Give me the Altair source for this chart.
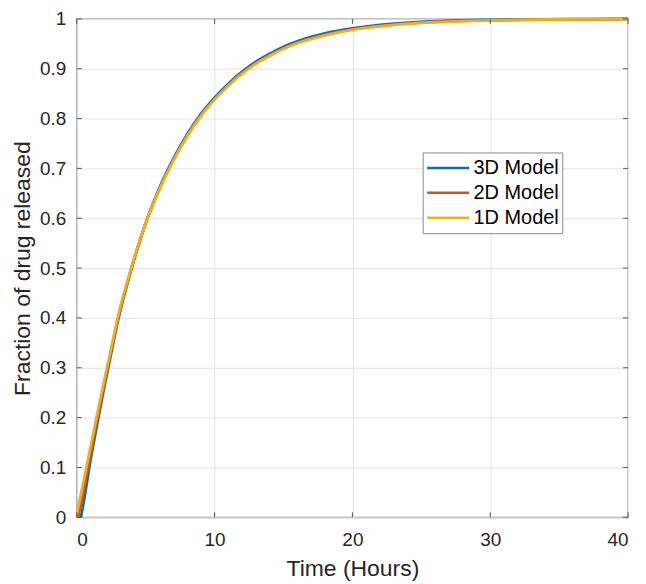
import altair as alt
import pandas as pd

# --- data ---
t_1d = [0, 0.5, 1, 1.5, 2, 2.5, 3, 4, 5, 6, 7, 8, 9, 10, 11, 12, 13, 14, 15, 16, 18, 20, 22, 25, 28, 30, 35, 40]
y_1d = [0.006, 0.074, 0.142, 0.21, 0.276, 0.34, 0.404, 0.505, 0.59, 0.658, 0.715, 0.764, 0.805, 0.838,
        0.866, 0.89, 0.91, 0.926, 0.94, 0.951, 0.967, 0.978, 0.985, 0.992, 0.9956, 0.997, 0.999, 0.9997]

t_2d = [0.1, 0.5, 1, 1.5, 2, 2.5, 3, 4, 5, 6, 7, 8, 9, 10, 11, 12, 13, 14, 15, 16, 18, 20, 22, 25, 28, 30, 35, 40]
y_2d = [0.0, 0.055, 0.128, 0.2, 0.268, 0.335, 0.4, 0.503, 0.59, 0.659, 0.716, 0.765, 0.806, 0.839,
        0.867, 0.891, 0.911, 0.927, 0.941, 0.952, 0.968, 0.979, 0.986, 0.9925, 0.996, 0.9972, 0.9991, 0.9998]

t_3d = [0.3, 0.5, 1, 1.5, 2, 2.5, 3, 4, 5, 6, 7, 8, 9, 10, 11, 12, 13, 14, 15, 16, 18, 20, 22, 25, 28, 30, 35, 40]
y_3d = [0.0, 0.03, 0.115, 0.19, 0.262, 0.33, 0.396, 0.502, 0.59, 0.661, 0.719, 0.768, 0.809, 0.842,
        0.87, 0.894, 0.914, 0.93, 0.944, 0.955, 0.971, 0.981, 0.988, 0.994, 0.997, 0.998, 0.9993, 0.9999]

series_names = ["3D Model", "2D Model", "1D Model"]
series_colors = ["#0072BD", "#D95319", "#EDB120"]

x_ticks = [0, 10, 20, 30, 40]
y_ticks = [0, 0.1, 0.2, 0.3, 0.4, 0.5, 0.6, 0.7, 0.8, 0.9, 1.0]

W, H = 553, 500
FONT = "Liberation Sans"

df3 = pd.DataFrame({"t": t_3d, "v": y_3d, "s": series_names[0]})
df2 = pd.DataFrame({"t": t_2d, "v": y_2d, "s": series_names[1]})
df1 = pd.DataFrame({"t": t_1d, "v": y_1d, "s": series_names[2]})

xscale = alt.Scale(domain=[0, 40], nice=False, zero=False)
yscale = alt.Scale(domain=[0, 1], nice=False)
cscale = alt.Scale(domain=series_names, range=series_colors)

xaxis = alt.Axis(values=x_ticks, title="Time (Hours)", grid=True, tickSize=0, domain=False,
                 labelPadding=13, titlePadding=8, format="d", titleFontSize=23)
yaxis = alt.Axis(values=y_ticks, title="Fraction of drug released", grid=True, tickSize=0, domain=False,
                 labelPadding=11, titlePadding=5,
                 labelExpr="datum.value == 0 ? '0' : datum.value == 1 ? '1' : format(datum.value, '.1f')")

legend = alt.Legend(orient="none", legendX=347, legendY=134, title=None, symbolType="stroke",
                    symbolSize=1764, symbolStrokeWidth=2.5, labelFontSize=20, labelFont=FONT,
                    labelColor="#000000", strokeColor="#8c8c8c", fillColor="white", padding=3,
                    rowPadding=0, clipHeight=25, labelOffset=3, labelLimit=200)


def line_layer(df):
    return alt.Chart(df).mark_line(strokeWidth=2.8, interpolate="monotone").encode(
        x=alt.X("t:Q", scale=xscale, axis=xaxis),
        y=alt.Y("v:Q", scale=yscale, axis=yaxis),
        color=alt.Color("s:N", scale=cscale, legend=legend),
    )


ytick_df = pd.DataFrame({"v": y_ticks})
xtick_df = pd.DataFrame({"t": x_ticks})
tick_col = "#555555"

yl = alt.Chart(ytick_df).mark_rule(color=tick_col, strokeWidth=1).encode(
    y=alt.Y("v:Q", scale=yscale), x=alt.value(0), x2=alt.value(5))
yr = alt.Chart(ytick_df).mark_rule(color=tick_col, strokeWidth=1).encode(
    y=alt.Y("v:Q", scale=yscale), x=alt.value(W - 5), x2=alt.value(W))
xb = alt.Chart(xtick_df).mark_rule(color=tick_col, strokeWidth=1).encode(
    x=alt.X("t:Q", scale=xscale), y=alt.value(H - 5), y2=alt.value(H))
xt = alt.Chart(xtick_df).mark_rule(color=tick_col, strokeWidth=1).encode(
    x=alt.X("t:Q", scale=xscale), y=alt.value(0), y2=alt.value(5))

chart = alt.layer(
    line_layer(df3), line_layer(df2), line_layer(df1), yl, yr, xb, xt
).properties(
    width=W, height=H,
    autosize=alt.AutoSizeParams(type="none"),
    padding={"left": 69, "top": 10, "right": 10, "bottom": 66},
).configure_view(
    stroke="#808080", strokeWidth=1.3
).configure_axis(
    gridColor="#e3e3e3", gridWidth=1,
    labelFont=FONT, labelFontSize=19, labelColor="#262626",
    titleFont=FONT, titleFontSize=23, titleColor="#262626", titleFontWeight="normal",
)

chart.save("out.html", embed_options={"renderer": "svg", "actions": False})
